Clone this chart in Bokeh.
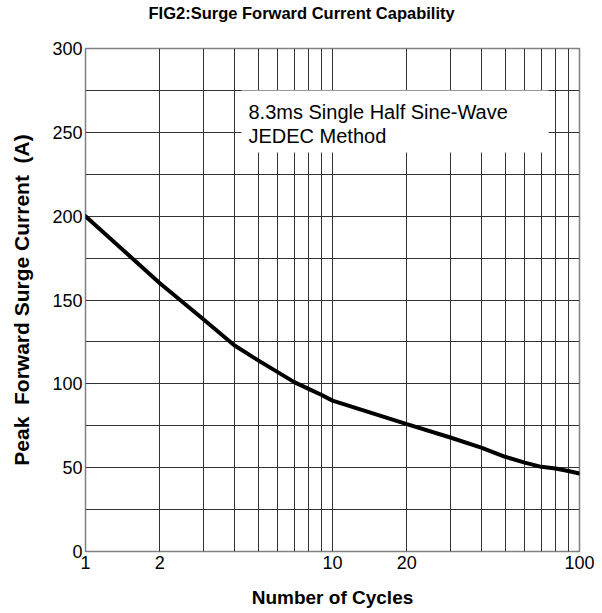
from bokeh.plotting import figure
from bokeh.models import FixedTicker, NumeralTickFormatter, Label, BoxAnnotation, Range1d
from bokeh.embed import file_html
from bokeh.resources import INLINE

# ---- data ----
cycles = [1, 2, 3, 4, 5, 6, 7, 8, 9, 10, 20, 30, 40, 50, 60, 70, 80, 90, 100]
current = [200, 160, 138.5, 123, 114, 107, 101, 97, 93.5, 90, 76, 68, 62, 56.5, 53, 50.5, 49.5, 48, 46.5]

x_tick_values = [1, 2, 10, 20, 100]
x_grid_values = [1, 2, 3, 4, 5, 6, 7, 8, 9, 10, 20, 30, 40, 50, 60, 70, 80, 90, 100]
y_tick_values = [0, 50, 100, 150, 200, 250, 300]
y_grid_values = [0, 25, 50, 75, 100, 125, 150, 175, 200, 225, 250, 275, 300]

title_text = "FIG2:Surge Forward Current Capability"
x_label = "Number of Cycles"
y_label = "Peak \u00a0Forward Surge Current \u00a0(A)"
note_text = "8.3ms Single Half Sine-Wave\nJEDEC Method"

FONT = "Liberation Sans"

p = figure(width=594, height=610, x_axis_type="log",
           x_range=Range1d(1, 100), y_range=Range1d(0, 300),
           output_backend="svg", toolbar_location=None,
           min_border_left=85, min_border_right=15,
           min_border_top=48, min_border_bottom=57)

# trailing empty line lifts the bottom-aligned title towards the top edge
p.title.text = title_text + "\n"
p.title.align = "left"
p.title.offset = 63
p.title.vertical_align = "bottom"
p.title.standoff = 0
p.title.text_line_height = 1.5
p.title.text_font = FONT
p.title.text_font_size = "16.5px"
p.title.text_font_style = "bold"
p.title.text_color = "black"

p.outline_line_color = "#808080"
p.outline_line_width = 1.5

# grids
p.xgrid.ticker = FixedTicker(ticks=x_grid_values)
p.ygrid.ticker = FixedTicker(ticks=y_grid_values)
for g in (p.xgrid, p.ygrid):
    g.grid_line_color = "#333333"
    g.grid_line_alpha = 1.0
    g.grid_line_width = 1

# axes
p.xaxis.ticker = FixedTicker(ticks=x_tick_values)
p.xaxis.formatter = NumeralTickFormatter(format="0")
p.yaxis.ticker = FixedTicker(ticks=y_tick_values)
for ax in (p.xaxis, p.yaxis):
    ax.axis_line_color = None
    ax.major_tick_line_color = None
    ax.minor_tick_line_color = None
    ax.major_tick_in = 0
    ax.major_tick_out = 0
    ax.minor_tick_in = 0
    ax.minor_tick_out = 0
    ax.major_label_text_font = FONT
    ax.major_label_text_font_size = "18px"
    ax.major_label_text_color = "black"
    ax.axis_label_text_font = FONT
    ax.axis_label_text_font_style = "bold"
    ax.axis_label_text_color = "black"

p.xaxis.axis_label = x_label
p.xaxis.axis_label_text_font_size = "19px"
p.xaxis.major_label_standoff = 4
p.xaxis.axis_label_standoff = 15

p.yaxis.axis_label = y_label
p.yaxis.axis_label_text_font_size = "21px"
p.yaxis.major_label_standoff = 3
p.yaxis.axis_label_standoff = 16

# annotation box
box = BoxAnnotation(left=4.28, right=75, top=275, bottom=238,
                    fill_color="white", fill_alpha=1.0, line_color=None)
p.add_layout(box)
note = Label(x=4.28, y=268.6, x_offset=7, text=note_text,
             text_font=FONT, text_font_size="20px", text_color="black",
             text_baseline="top", text_line_height=1.08)
p.add_layout(note)

# curve
p.line(cycles, current, line_color="black", line_width=4, line_join="round", line_cap="round")

open("out.html", "w").write(file_html(p, INLINE))
